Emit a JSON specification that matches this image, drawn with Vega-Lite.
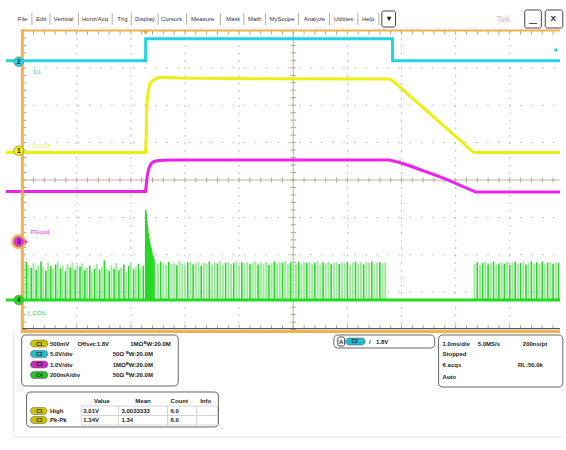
{
"$schema":"https://vega.github.io/schema/vega-lite/v6.json",
"width":566,"height":450,
"autosize":{"type":"fit","contains":"padding"},
"padding":0,
"background":"white",
"view":{"stroke":null},
"config":{"font":"Liberation Sans"},
"datasets":{
"gx":[{"t":-4,"v":0},{"t":-3,"v":0},{"t":-2,"v":0},{"t":-1,"v":0},{"t":1,"v":0},{"t":2,"v":0},{"t":3,"v":0},{"t":4,"v":0}],
"gy":[{"v":-3,"t":0},{"v":-2,"t":0},{"v":-1,"t":0},{"v":1,"t":0},{"v":2,"t":0},{"v":3,"t":0}],
"c0":[{"t":0,"v":0}],
"xt":[{"t":-5,"v":0},{"t":-4.8,"v":0},{"t":-4.6,"v":0},{"t":-4.4,"v":0},{"t":-4.2,"v":0},{"t":-4,"v":0},{"t":-3.8,"v":0},{"t":-3.6,"v":0},{"t":-3.4,"v":0},{"t":-3.2,"v":0},{"t":-3,"v":0},{"t":-2.8,"v":0},{"t":-2.6,"v":0},{"t":-2.4,"v":0},{"t":-2.2,"v":0},{"t":-2,"v":0},{"t":-1.8,"v":0},{"t":-1.6,"v":0},{"t":-1.4,"v":0},{"t":-1.2,"v":0},{"t":-1,"v":0},{"t":-0.8,"v":0},{"t":-0.6,"v":0},{"t":-0.4,"v":0},{"t":-0.2,"v":0},{"t":0,"v":0},{"t":0.2,"v":0},{"t":0.4,"v":0},{"t":0.6,"v":0},{"t":0.8,"v":0},{"t":1,"v":0},{"t":1.2,"v":0},{"t":1.4,"v":0},{"t":1.6,"v":0},{"t":1.8,"v":0},{"t":2,"v":0},{"t":2.2,"v":0},{"t":2.4,"v":0},{"t":2.6,"v":0},{"t":2.8,"v":0},{"t":3,"v":0},{"t":3.2,"v":0},{"t":3.4,"v":0},{"t":3.6,"v":0},{"t":3.8,"v":0},{"t":4,"v":0},{"t":4.2,"v":0},{"t":4.4,"v":0},{"t":4.6,"v":0},{"t":4.8,"v":0}],
"yt":[{"v":-4,"t":0},{"v":-3.8,"t":0},{"v":-3.6,"t":0},{"v":-3.4,"t":0},{"v":-3.2,"t":0},{"v":-3,"t":0},{"v":-2.8,"t":0},{"v":-2.6,"t":0},{"v":-2.4,"t":0},{"v":-2.2,"t":0},{"v":-2,"t":0},{"v":-1.8,"t":0},{"v":-1.6,"t":0},{"v":-1.4,"t":0},{"v":-1.2,"t":0},{"v":-1,"t":0},{"v":-0.8,"t":0},{"v":-0.6,"t":0},{"v":-0.4,"t":0},{"v":-0.2,"t":0},{"v":0,"t":0},{"v":0.2,"t":0},{"v":0.4,"t":0},{"v":0.6,"t":0},{"v":0.8,"t":0},{"v":1,"t":0},{"v":1.2,"t":0},{"v":1.4,"t":0},{"v":1.6,"t":0},{"v":1.8,"t":0},{"v":2,"t":0},{"v":2.2,"t":0},{"v":2.4,"t":0},{"v":2.6,"t":0},{"v":2.8,"t":0},{"v":3,"t":0},{"v":3.2,"t":0},{"v":3.4,"t":0},{"v":3.6,"t":0},{"v":3.8,"t":0},{"v":4,"t":0}],
"spk":[
{"t":-4.98,"v":-2.25,"g":"o"},{"t":-4.93,"v":-2.2,"g":"n"},{"t":-4.89,"v":-2.3,"g":"o"},{"t":-4.84,"v":-2.35,"g":"n"},{"t":-4.8,"v":-2.22,"g":"o"},{"t":-4.75,"v":-2.4,"g":"n"},{"t":-4.71,"v":-2.28,"g":"o"},{"t":-4.66,"v":-2.18,"g":"n"},{"t":-4.62,"v":-2.33,"g":"o"},{"t":-4.57,"v":-2.42,"g":"n"},
{"t":-4.53,"v":-2.21,"g":"o"},{"t":-4.48,"v":-2.3,"g":"n"},{"t":-4.44,"v":-2.38,"g":"o"},{"t":-4.39,"v":-2.26,"g":"n"},{"t":-4.35,"v":-2.19,"g":"o"},{"t":-4.3,"v":-2.36,"g":"n"},{"t":-4.26,"v":-2.29,"g":"o"},{"t":-4.21,"v":-2.44,"g":"n"},{"t":-4.17,"v":-2.24,"g":"o"},{"t":-4.12,"v":-2.34,"g":"n"},
{"t":-4.08,"v":-2.2,"g":"o"},{"t":-4.03,"v":-2.39,"g":"n"},{"t":-3.99,"v":-2.27,"g":"o"},{"t":-3.94,"v":-2.31,"g":"n"},{"t":-3.9,"v":-2.23,"g":"o"},{"t":-3.85,"v":-2.41,"g":"n"},{"t":-3.81,"v":-2.35,"g":"o"},{"t":-3.76,"v":-2.29,"g":"n"},{"t":-3.72,"v":-2.46,"g":"o"},{"t":-3.67,"v":-2.37,"g":"n"},
{"t":-3.63,"v":-2.25,"g":"o"},{"t":-3.58,"v":-2.4,"g":"n"},{"t":-3.54,"v":-2.32,"g":"o"},{"t":-3.49,"v":-2.15,"g":"n"},{"t":-3.45,"v":-2.36,"g":"o"},{"t":-3.4,"v":-2.43,"g":"n"},{"t":-3.36,"v":-2.28,"g":"o"},{"t":-3.31,"v":-2.38,"g":"n"},{"t":-3.27,"v":-2.22,"g":"o"},{"t":-3.22,"v":-2.41,"g":"n"},
{"t":-3.18,"v":-2.34,"g":"o"},{"t":-3.13,"v":-2.26,"g":"n"},{"t":-3.09,"v":-2.45,"g":"o"},{"t":-3.04,"v":-2.3,"g":"n"},{"t":-3.0,"v":-2.21,"g":"o"},{"t":-2.95,"v":-2.39,"g":"n"},{"t":-2.91,"v":-2.33,"g":"o"},{"t":-2.86,"v":-2.24,"g":"n"},{"t":-2.82,"v":-2.37,"g":"o"},{"t":-2.77,"v":-2.29,"g":"n"},
{"t":-2.725,"v":-0.8,"g":"n"},{"t":-2.716,"v":-0.91,"g":"n"},{"t":-2.707,"v":-1.07,"g":"n"},{"t":-2.698,"v":-1.2,"g":"n"},{"t":-2.689,"v":-1.31,"g":"n"},{"t":-2.68,"v":-1.42,"g":"n"},{"t":-2.671,"v":-1.5,"g":"n"},{"t":-2.662,"v":-1.58,"g":"n"},{"t":-2.653,"v":-1.66,"g":"n"},{"t":-2.64,"v":-1.74,"g":"n"},{"t":-2.626,"v":-1.82,"g":"n"},{"t":-2.609,"v":-1.93,"g":"n"},{"t":-2.591,"v":-2.03,"g":"n"},{"t":-2.573,"v":-2.11,"g":"n"},
{"t":-2.55,"v":-2.2,"g":"o"},{"t":-2.5,"v":-2.25,"g":"o"},{"t":-2.45,"v":-2.18,"g":"n"},{"t":-2.4,"v":-2.22,"g":"o"},{"t":-2.35,"v":-2.27,"g":"o"},{"t":-2.3,"v":-2.19,"g":"n"},{"t":-2.25,"v":-2.24,"g":"o"},{"t":-2.2,"v":-2.21,"g":"o"},{"t":-2.15,"v":-2.28,"g":"n"},{"t":-2.1,"v":-2.17,"g":"o"},
{"t":-2.05,"v":-2.23,"g":"o"},{"t":-2.0,"v":-2.26,"g":"o"},{"t":-1.95,"v":-2.2,"g":"n"},{"t":-1.9,"v":-2.18,"g":"o"},{"t":-1.85,"v":-2.25,"g":"n"},{"t":-1.8,"v":-2.22,"g":"o"},{"t":-1.75,"v":-2.19,"g":"o"},{"t":-1.7,"v":-2.29,"g":"n"},{"t":-1.65,"v":-2.21,"g":"o"},{"t":-1.6,"v":-2.24,"g":"o"},
{"t":-1.55,"v":-2.18,"g":"n"},{"t":-1.5,"v":-2.26,"g":"o"},{"t":-1.45,"v":-2.2,"g":"o"},{"t":-1.4,"v":-2.23,"g":"n"},{"t":-1.35,"v":-2.17,"g":"o"},{"t":-1.3,"v":-2.27,"g":"o"},{"t":-1.25,"v":-2.21,"g":"n"},{"t":-1.2,"v":-2.19,"g":"o"},{"t":-1.15,"v":-2.24,"g":"o"},{"t":-1.1,"v":-2.22,"g":"n"},
{"t":-1.05,"v":-2.18,"g":"o"},{"t":-1.0,"v":-2.28,"g":"o"},{"t":-0.95,"v":-2.2,"g":"n"},{"t":-0.9,"v":-2.23,"g":"o"},{"t":-0.85,"v":-2.19,"g":"o"},{"t":-0.8,"v":-2.25,"g":"n"},{"t":-0.75,"v":-2.21,"g":"o"},{"t":-0.7,"v":-2.17,"g":"o"},{"t":-0.65,"v":-2.26,"g":"n"},{"t":-0.6,"v":-2.2,"g":"o"},
{"t":-0.55,"v":-2.23,"g":"o"},{"t":-0.5,"v":-2.19,"g":"o"},{"t":-0.45,"v":-2.27,"g":"n"},{"t":-0.4,"v":-2.21,"g":"o"},{"t":-0.35,"v":-2.18,"g":"n"},{"t":-0.3,"v":-2.24,"g":"o"},{"t":-0.25,"v":-2.2,"g":"o"},{"t":-0.2,"v":-2.22,"g":"n"},{"t":-0.15,"v":-2.17,"g":"o"},{"t":-0.1,"v":-2.25,"g":"o"},
{"t":-0.05,"v":-2.21,"g":"n"},{"t":0.0,"v":-2.19,"g":"o"},{"t":0.05,"v":-2.23,"g":"o"},{"t":0.1,"v":-2.18,"g":"n"},{"t":0.15,"v":-2.26,"g":"o"},{"t":0.2,"v":-2.2,"g":"o"},{"t":0.25,"v":-2.22,"g":"n"},{"t":0.3,"v":-2.19,"g":"o"},{"t":0.35,"v":-2.24,"g":"o"},{"t":0.4,"v":-2.21,"g":"n"},
{"t":0.45,"v":-2.17,"g":"o"},{"t":0.5,"v":-2.27,"g":"o"},{"t":0.55,"v":-2.2,"g":"n"},{"t":0.6,"v":-2.23,"g":"o"},{"t":0.65,"v":-2.19,"g":"o"},{"t":0.7,"v":-2.25,"g":"n"},{"t":0.75,"v":-2.21,"g":"o"},{"t":0.8,"v":-2.18,"g":"o"},{"t":0.85,"v":-2.24,"g":"n"},{"t":0.9,"v":-2.2,"g":"o"},
{"t":0.95,"v":-2.22,"g":"o"},{"t":1.0,"v":-2.19,"g":"n"},{"t":1.05,"v":-2.26,"g":"o"},{"t":1.1,"v":-2.21,"g":"o"},{"t":1.15,"v":-2.18,"g":"n"},{"t":1.2,"v":-2.23,"g":"o"},{"t":1.25,"v":-2.2,"g":"o"},{"t":1.3,"v":-2.25,"g":"n"},{"t":1.35,"v":-2.19,"g":"o"},{"t":1.4,"v":-2.22,"g":"o"},
{"t":1.45,"v":-2.18,"g":"n"},{"t":1.5,"v":-2.24,"g":"o"},{"t":1.55,"v":-2.21,"g":"o"},{"t":1.6,"v":-2.19,"g":"n"},{"t":1.65,"v":-2.23,"g":"o"},{"t":1.7,"v":-2.2,"g":"o"},
{"t":3.35,"v":-2.24,"g":"o"},{"t":3.4,"v":-2.2,"g":"n"},{"t":3.45,"v":-2.27,"g":"o"},{"t":3.5,"v":-2.22,"g":"n"},{"t":3.55,"v":-2.19,"g":"o"},{"t":3.6,"v":-2.25,"g":"n"},{"t":3.65,"v":-2.21,"g":"o"},{"t":3.7,"v":-2.18,"g":"n"},{"t":3.75,"v":-2.26,"g":"o"},{"t":3.8,"v":-2.23,"g":"n"},
{"t":3.85,"v":-2.2,"g":"o"},{"t":3.9,"v":-2.24,"g":"n"},{"t":3.95,"v":-2.19,"g":"o"},{"t":4.0,"v":-2.27,"g":"n"},{"t":4.05,"v":-2.21,"g":"o"},{"t":4.1,"v":-2.18,"g":"n"},{"t":4.15,"v":-2.25,"g":"o"},{"t":4.2,"v":-2.22,"g":"n"},{"t":4.25,"v":-2.19,"g":"o"},{"t":4.3,"v":-2.26,"g":"n"},
{"t":4.35,"v":-2.21,"g":"o"},{"t":4.4,"v":-2.17,"g":"n"},{"t":4.45,"v":-2.24,"g":"o"},{"t":4.5,"v":-2.2,"g":"n"},{"t":4.55,"v":-2.23,"g":"o"},{"t":4.6,"v":-2.18,"g":"n"},{"t":4.65,"v":-2.25,"g":"o"},{"t":4.7,"v":-2.21,"g":"n"},{"t":4.75,"v":-2.19,"g":"o"},{"t":4.8,"v":-2.24,"g":"n"},{"t":4.85,"v":-2.2,"g":"o"},{"t":4.9,"v":-2.22,"g":"n"}
],
"tr":[
{"ch":"C4","t":-5.307,"v":-3.209},{"ch":"C4","t":4.928,"v":-3.209},
{"ch":"C3","t":-5.307,"v":-0.307},{"ch":"C3","t":-2.73,"v":-0.307},{"ch":"C3","t":-2.716,"v":-0.134},{"ch":"C3","t":-2.703,"v":0.053},{"ch":"C3","t":-2.685,"v":0.214},{"ch":"C3","t":-2.658,"v":0.348},{"ch":"C3","t":-2.622,"v":0.441},{"ch":"C3","t":-2.577,"v":0.495},{"ch":"C3","t":-2.486,"v":0.521},{"ch":"C3","t":-2.233,"v":0.535},{"ch":"C3","t":1.781,"v":0.535},{"ch":"C3","t":1.962,"v":0.468},{"ch":"C3","t":2.161,"v":0.374},{"ch":"C3","t":2.776,"v":0.053},{"ch":"C3","t":3.373,"v":-0.321},{"ch":"C3","t":4.928,"v":-0.321},
{"ch":"C1","t":-5.307,"v":0.735},{"ch":"C1","t":-2.73,"v":0.735},{"ch":"C1","t":-2.718,"v":1.07},{"ch":"C1","t":-2.711,"v":1.74},{"ch":"C1","t":-2.698,"v":2.14},{"ch":"C1","t":-2.676,"v":2.41},{"ch":"C1","t":-2.649,"v":2.57},{"ch":"C1","t":-2.595,"v":2.66},{"ch":"C1","t":-2.505,"v":2.73},{"ch":"C1","t":-2.378,"v":2.75},{"ch":"C1","t":-2.143,"v":2.73},{"ch":"C1","t":-0.787,"v":2.71},{"ch":"C1","t":1.781,"v":2.7},{"ch":"C1","t":1.85,"v":2.64},{"ch":"C1","t":3.336,"v":0.735},{"ch":"C1","t":4.928,"v":0.735},
{"ch":"C2","t":-5.307,"v":3.19},{"ch":"C2","t":-2.728,"v":3.19},{"ch":"C2","t":-2.726,"v":3.78},{"ch":"C2","t":1.834,"v":3.78},{"ch":"C2","t":1.836,"v":3.19},{"ch":"C2","t":4.928,"v":3.19}
],
"mk":[{"t":-5.072,"v":3.163,"ch":"C2","s":"2"},{"t":-5.072,"v":0.783,"ch":"C1","s":"1"},{"t":-5.072,"v":-1.65,"ch":"C3","s":"3"},{"t":-5.072,"v":-3.209,"ch":"C4","s":"4"}],
"cl":[{"t":-4.801,"v":2.888,"ch":"C2","s":"D1"},{"t":-4.819,"v":0.909,"ch":"C1","s":"V OUT"},{"t":-4.855,"v":-1.382,"ch":"C3","s":"PGood"},{"t":-4.91,"v":-3.556,"ch":"C4","s":"I_COIL"}],
"sep":[{"t":-4.828,"v":4.3},{"t":-4.494,"v":4.3},{"t":-3.969,"v":4.3},{"t":-3.345,"v":4.3},{"t":-2.993,"v":4.3},{"t":-2.496,"v":4.3},{"t":-1.971,"v":4.3},{"t":-1.347,"v":4.3},{"t":-0.913,"v":4.3},{"t":-0.515,"v":4.3},{"t":0.099,"v":4.3},{"t":0.669,"v":4.3},{"t":1.193,"v":4.3},{"t":1.582,"v":4.3}],
"pan":[{"t":-5.018,"t2":-2.125,"v":-4.144,"v2":-5.508},{"t":-4.927,"t2":-1.383,"v":-5.668,"v2":-6.604},{"t":0.75,"t2":2.613,"v":-4.144,"v2":-4.492},{"t":2.685,"t2":4.98,"v":-4.144,"v2":-5.535}],
"box":[{"t":1.636,"t2":1.89,"v":4.519,"v2":4.091},{"t":4.277,"t2":4.584,"v":4.546,"v2":4.064},{"t":4.656,"t2":4.98,"v":4.546,"v2":4.064},{"t":0.823,"t2":0.949,"v":-4.198,"v2":-4.439}],
"bdg":[{"t":-4.855,"t2":-4.53,"v":-4.278,"v2":-4.466,"ch":"C1"},{"t":-4.855,"t2":-4.53,"v":-4.558,"v2":-4.746,"ch":"C2"},{"t":-4.855,"t2":-4.53,"v":-4.839,"v2":-5.027,"ch":"C3"},{"t":-4.855,"t2":-4.53,"v":-5.12,"v2":-5.308,"ch":"C4"},{"t":-4.855,"t2":-4.548,"v":-6.082,"v2":-6.27,"ch":"C1"},{"t":-4.855,"t2":-4.548,"v":-6.323,"v2":-6.511,"ch":"C1"},{"t":0.967,"t2":1.329,"v":-4.224,"v2":-4.412,"ch":"C2"}],
"tbl":[{"t":-3.915,"t2":-1.4,"v":-6.043,"v2":-6.043},{"t":-3.915,"t2":-1.4,"v":-6.297,"v2":-6.297},{"t":-3.915,"t2":-1.4,"v":-6.551,"v2":-6.551},{"t":-3.915,"t2":-3.915,"v":-6.043,"v2":-6.551},{"t":-3.228,"t2":-3.228,"v":-6.043,"v2":-6.551},{"t":-2.324,"t2":-2.324,"v":-6.043,"v2":-6.551},{"t":-1.781,"t2":-1.781,"v":-6.043,"v2":-6.551},{"t":-1.4,"t2":-1.4,"v":-6.043,"v2":-6.551}],
"frm":[{"t":-5.162,"t2":-5.162,"v":-4.011,"v2":-6.872},{"t":-5.162,"t2":4.98,"v":-6.872,"v2":-6.872}],
"lab":[
{"t":-5.0,"v":4.305,"s":"File","k":"m"},{"t":-4.656,"v":4.305,"s":"Edit","k":"m"},{"t":-4.241,"v":4.305,"s":"Vertical","k":"m"},{"t":-3.662,"v":4.305,"s":"Horiz/Acq","k":"m"},{"t":-3.156,"v":4.305,"s":"Trig","k":"m"},{"t":-2.74,"v":4.305,"s":"Display","k":"m"},{"t":-2.251,"v":4.305,"s":"Cursors","k":"m"},{"t":-1.673,"v":4.305,"s":"Measure","k":"m"},{"t":-1.112,"v":4.305,"s":"Mask","k":"m"},{"t":-0.714,"v":4.305,"s":"Math","k":"m"},{"t":-0.208,"v":4.305,"s":"MyScope","k":"m"},{"t":0.389,"v":4.305,"s":"Analyze","k":"m"},{"t":0.931,"v":4.305,"s":"Utilities","k":"m"},{"t":1.383,"v":4.305,"s":"Help","k":"m"},
{"t":1.763,"v":4.305,"s":"▾","k":"x"},{"t":4.43,"v":4.2,"s":"—","k":"x"},{"t":4.8,"v":4.305,"s":"X","k":"x"},{"t":3.879,"v":4.305,"s":"Tek","k":"g"},
{"t":-4.494,"v":-4.372,"s":"500mV","k":"p"},{"t":-3.987,"v":-4.372,"s":"Offset:1.8V","k":"p"},{"t":-3.011,"v":-4.372,"s":"1MΩ","k":"p"},{"t":-2.76,"v":-4.372,"s":"ᴮW:20.0M","k":"p"},
{"t":-4.494,"v":-4.652,"s":"5.0V/div","k":"p"},{"t":-3.336,"v":-4.652,"s":"50Ω","k":"p"},{"t":-3.09,"v":-4.652,"s":"ᴮW:20.0M","k":"p"},
{"t":-4.494,"v":-4.933,"s":"1.0V/div","k":"p"},{"t":-3.336,"v":-4.933,"s":"1MΩ","k":"p"},{"t":-3.09,"v":-4.933,"s":"ᴮW:20.0M","k":"p"},
{"t":-4.494,"v":-5.214,"s":"200mA/div","k":"p"},{"t":-3.336,"v":-5.214,"s":"50Ω","k":"p"},{"t":-3.09,"v":-5.214,"s":"ᴮW:20.0M","k":"p"},
{"t":-3.535,"v":-5.909,"s":"Value","k":"h"},{"t":-2.776,"v":-5.909,"s":"Mean","k":"h"},{"t":-2.107,"v":-5.909,"s":"Count","k":"h"},{"t":-1.618,"v":-5.909,"s":"Info","k":"h"},
{"t":-4.494,"v":-6.176,"s":"High","k":"p"},{"t":-3.879,"v":-6.176,"s":"3.01V","k":"p"},{"t":-3.174,"v":-6.176,"s":"3.0033333","k":"p"},{"t":-2.269,"v":-6.176,"s":"6.0","k":"p"},
{"t":-4.494,"v":-6.417,"s":"Pk-Pk","k":"p"},{"t":-3.879,"v":-6.417,"s":"1.34V","k":"p"},{"t":-3.174,"v":-6.417,"s":"1.34","k":"p"},{"t":-2.269,"v":-6.417,"s":"6.0","k":"p"},
{"t":0.886,"v":-4.318,"s":"A","k":"h"},{"t":1.4,"v":-4.318,"s":"/","k":"p"},{"t":1.528,"v":-4.318,"s":"1.8V","k":"p"},
{"t":2.758,"v":-4.385,"s":"1.0ms/div","k":"p"},{"t":3.409,"v":-4.385,"s":"5.0MS/s","k":"p"},{"t":4.241,"v":-4.385,"s":"200ns/pt","k":"p"},
{"t":2.758,"v":-4.652,"s":"Stopped","k":"p"},
{"t":2.758,"v":-4.947,"s":"6 acqs","k":"p"},{"t":4.15,"v":-4.947,"s":"RL:50.0k","k":"p"},
{"t":2.758,"v":-5.267,"s":"Auto","k":"p"}
]
},
"encoding":{
"x":{"field":"t","type":"quantitative","scale":{"domain":[-5.307,4.928],"nice":false,"zero":false},"axis":null},
"y":{"field":"v","type":"quantitative","scale":{"domain":[-7.219,4.813],"nice":false,"zero":false},"axis":null}
},
"layer":[
{"data":{"name":"gx"},"mark":{"type":"rule","color":"#b0b0b0","strokeWidth":1,"strokeDash":[1.5,5.98]},"encoding":{"y":{"datum":4},"y2":{"datum":-4}}},
{"data":{"name":"gy"},"mark":{"type":"rule","color":"#b0b0b0","strokeWidth":1,"strokeDash":[1.5,9.56]},"encoding":{"x":{"datum":-5},"x2":{"datum":4.928}}},
{"data":{"name":"c0"},"mark":{"type":"rule","color":"#bdb39e","strokeWidth":1},"encoding":{"y":{"datum":4},"y2":{"datum":-4}}},
{"data":{"name":"c0"},"mark":{"type":"rule","color":"#bdb39e","strokeWidth":1},"encoding":{"x":{"datum":-5},"x2":{"datum":4.928}}},
{"data":{"name":"xt"},"mark":{"type":"rule","color":"#aea58f","strokeWidth":1},"encoding":{"y":{"datum":0.065},"y2":{"datum":-0.065}}},
{"data":{"name":"xt"},"mark":{"type":"rule","color":"#aea58f","strokeWidth":1},"encoding":{"y":{"datum":4},"y2":{"datum":3.89}}},
{"data":{"name":"xt"},"mark":{"type":"rule","color":"#aea58f","strokeWidth":1},"encoding":{"y":{"datum":-3.98},"y2":{"datum":-3.88}}},
{"data":{"name":"yt"},"mark":{"type":"rule","color":"#aea58f","strokeWidth":1},"encoding":{"x":{"datum":-0.05},"x2":{"datum":0.05}}},
{"data":{"name":"yt"},"mark":{"type":"rule","color":"#aea58f","strokeWidth":1},"encoding":{"x":{"datum":-5},"x2":{"datum":-4.93}}},
{"data":{"name":"spk"},"transform":[{"filter":"datum.g=='o'"}],"mark":{"type":"rule","color":"#a0eaa0","strokeWidth":2},"encoding":{"y2":{"datum":-3.209}}},
{"data":{"name":"spk"},"transform":[{"filter":"datum.g=='n'"}],"mark":{"type":"rule","color":"#25d925","strokeWidth":1.6},"encoding":{"y2":{"datum":-3.209}}},
{"data":{"name":"tr"},"mark":{"type":"line","strokeWidth":3},"encoding":{"color":{"field":"ch","type":"nominal","scale":{"domain":["C1","C2","C3","C4"],"range":["#eeee10","#22d4e4","#ec22ec","#22dc22"]},"legend":null}}},
{"data":{"values":[{"t":0,"v":0}]},"mark":{"type":"rule","color":"#f3b04d","strokeWidth":3},"encoding":{"x":{"datum":-5.005},"y":{"datum":4.03},"y2":{"datum":-4.09}}},
{"data":{"values":[{"t":0,"v":0}]},"mark":{"type":"rule","color":"#f3b04d","strokeWidth":2},"encoding":{"x":{"datum":-5.03},"x2":{"datum":4.928},"y":{"datum":4.0}}},
{"data":{"values":[{"t":0,"v":0}]},"mark":{"type":"rule","color":"#333333","strokeWidth":1},"encoding":{"x":{"datum":-5.0},"x2":{"datum":4.928},"y":{"datum":-3.975}}},
{"data":{"values":[{"t":0,"v":0}]},"mark":{"type":"rule","color":"#f3b04d","strokeWidth":3},"encoding":{"x":{"datum":-5.03},"x2":{"datum":4.928},"y":{"datum":-4.05}}},
{"data":{"values":[{"t":-5.072,"v":-1.65}]},"mark":{"type":"point","shape":"circle","filled":false,"stroke":"#f3b04d","strokeWidth":2.5,"size":150,"opacity":1}},
{"data":{"name":"mk"},"mark":{"type":"point","shape":"circle","filled":true,"opacity":1,"size":95,"stroke":"#777777","strokeWidth":0.6},"encoding":{"color":{"field":"ch","type":"nominal","scale":{"domain":["C1","C2","C3","C4"],"range":["#eeee10","#22d4e4","#ec22ec","#22dc22"]},"legend":null}}},
{"data":{"name":"mk"},"mark":{"type":"text","fontSize":6.5,"fontWeight":"bold","color":"#111111","align":"center","baseline":"middle"},"encoding":{"text":{"field":"s"}}},
{"data":{"name":"cl"},"mark":{"type":"text","fontSize":6,"align":"left","baseline":"middle"},"encoding":{"text":{"field":"s"},"color":{"field":"ch","type":"nominal","scale":{"domain":["C1","C2","C3","C4"],"range":["#eeee10","#22d4e4","#ec22ec","#22dc22"]},"legend":null}}},
{"data":{"values":[{"t":-2.727,"v":3.94}]},"mark":{"type":"point","shape":"triangle-down","filled":true,"color":"#f0a030","size":28,"opacity":1}},
{"data":{"values":[{"t":4.84,"v":3.476}]},"mark":{"type":"point","shape":"triangle-left","filled":true,"color":"#22d4e4","size":22,"opacity":1}},
{"data":{"values":[{"t":-4.93,"v":-1.65}]},"mark":{"type":"point","shape":"triangle-right","filled":true,"color":"#ec22ec","size":16,"opacity":1}},
{"data":{"name":"frm"},"mark":{"type":"rule","color":"#e2e2e2","strokeWidth":1},"encoding":{"x2":{"field":"t2"},"y2":{"field":"v2"}}},
{"data":{"name":"sep"},"mark":{"type":"rule","color":"#b0b0b0","strokeWidth":1},"encoding":{"y":{"datum":4.465},"y2":{"datum":4.144}}},
{"data":{"name":"pan"},"mark":{"type":"rect","fill":"white","stroke":"#666666","strokeWidth":1,"cornerRadius":4},"encoding":{"x2":{"field":"t2"},"y2":{"field":"v2"}}},
{"data":{"name":"box"},"mark":{"type":"rect","fill":"white","stroke":"#444444","strokeWidth":1,"cornerRadius":2},"encoding":{"x2":{"field":"t2"},"y2":{"field":"v2"}}},
{"data":{"name":"tbl"},"mark":{"type":"rule","color":"#d4d4d4","strokeWidth":1},"encoding":{"x2":{"field":"t2"},"y2":{"field":"v2"}}},
{"data":{"name":"bdg"},"mark":{"type":"rect","stroke":"#555555","strokeWidth":0.5,"cornerRadius":4},"encoding":{"x2":{"field":"t2"},"y2":{"field":"v2"},"fill":{"field":"ch","type":"nominal","scale":{"domain":["C1","C2","C3","C4"],"range":["#c9c400","#22bccc","#c42cc4","#28be28"]},"legend":null}}},
{"data":{"name":"bdg"},"mark":{"type":"text","fontSize":5,"fontWeight":"bold","color":"#222222","align":"center","baseline":"middle","dx":9,"dy":3.5},"encoding":{"text":{"field":"ch"}}},
{"data":{"name":"lab"},"transform":[{"filter":"datum.k=='m'"}],"mark":{"type":"text","fontSize":6,"color":"#333333","align":"center","baseline":"middle"},"encoding":{"text":{"field":"s"}}},
{"data":{"name":"lab"},"transform":[{"filter":"datum.k=='x'"}],"mark":{"type":"text","fontSize":8,"fontWeight":"bold","color":"#222222","align":"center","baseline":"middle"},"encoding":{"text":{"field":"s"}}},
{"data":{"name":"lab"},"transform":[{"filter":"datum.k=='g'"}],"mark":{"type":"text","fontSize":9,"color":"#c4c4c4","align":"center","baseline":"middle"},"encoding":{"text":{"field":"s"}}},
{"data":{"name":"lab"},"transform":[{"filter":"datum.k=='p'"}],"mark":{"type":"text","fontSize":6,"fontWeight":"bold","color":"#222222","align":"left","baseline":"middle"},"encoding":{"text":{"field":"s"}}},
{"data":{"name":"lab"},"transform":[{"filter":"datum.k=='h'"}],"mark":{"type":"text","fontSize":6,"fontWeight":"bold","color":"#222222","align":"center","baseline":"middle"},"encoding":{"text":{"field":"s"}}}
]
}
